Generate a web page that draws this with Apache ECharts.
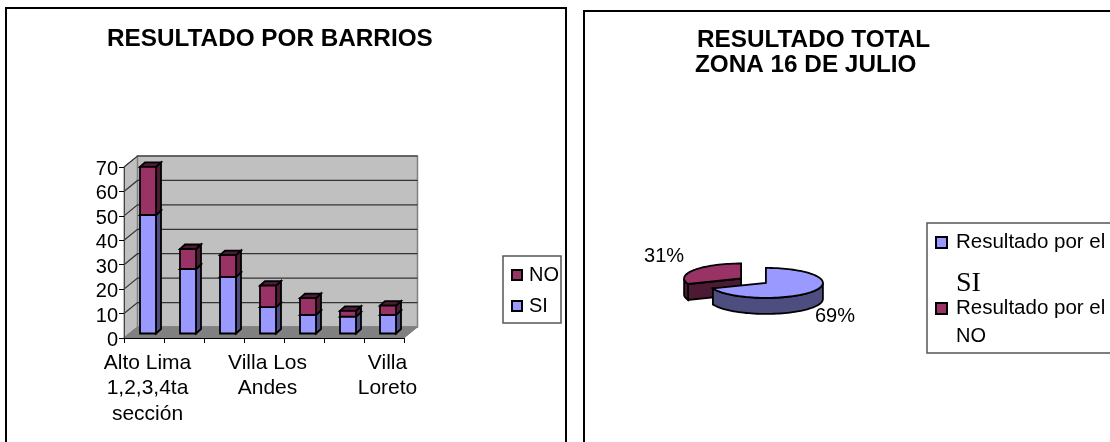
<!DOCTYPE html>
<html>
<head>
<meta charset="utf-8">
<style>
  html, body { margin: 0; padding: 0; background: #ffffff; }
  #chart { width: 1110px; height: 442px; }
</style>
</head>
<body>
<div id="chart"></div>
<script src="https://cdn.jsdelivr.net/npm/echarts@6/dist/echarts.min.js"></script>
<script>
// bar chart data
const barrios = ['Alto Lima\n1,2,3,4ta\nsección', '', '', 'Villa Los\nAndes', '', '', 'Villa\nLoreto']
const si = [48.5, 26.4, 23.2, 10.8, 7.6, 6.9, 7.6]
const no = [19.7, 8.2, 8.9, 8.8, 6.9, 2.4, 3.8]
const yTicks = [0, 10, 20, 30, 40, 50, 60, 70]

// pie chart data
const pieNames = ['Resultado por el SI', 'Resultado por el NO']
const pieValues = [69, 31]

const BLUE = '#9999FF'
const BLUE_SIDE = '#4D4D80'
const RED = '#993366'
const RED_SIDE = '#4D1A33'
const FONT = '"Liberation Sans", Arial, sans-serif'

// depth of the 3d box and of the bars, px
const WALL_DX = 13.5
const WALL_DY = -11
const BAR_DX = 4
const BAR_DY = -4.5
const BAR_W = 16
const BAR_DEPTH_X = 5
const BAR_DEPTH_Y = -4.5

function poly (points, fill, stroke, lineWidth) {
  return {
    type: 'polygon',
    shape: { points: points },
    style: { fill: fill, stroke: stroke || null, lineWidth: lineWidth || 0 }
  }
}

// side wall, floor, back wall and gridlines
function renderWalls (params, api) {
  const c = params.coordSys
  const left = c.x
  const right = c.x + c.width
  const top = c.y
  const base = c.y + c.height
  const children = [
    poly([[left, base], [left + WALL_DX, base + WALL_DY], [left + WALL_DX, top + WALL_DY], [left, top]], '#C0C0C0', '#808080', 1),
    poly([[left + WALL_DX, base + WALL_DY], [right + WALL_DX, base + WALL_DY], [right + WALL_DX, top + WALL_DY], [left + WALL_DX, top + WALL_DY]], '#C0C0C0', '#808080', 1.5),
    poly([[left, base], [right, base], [right + WALL_DX, base + WALL_DY], [left + WALL_DX, base + WALL_DY]], '#808080', '#808080', 1)
  ]
  yTicks.forEach(function (t) {
    const y = api.coord([0, t])[1]
    children.push({
      type: 'polyline',
      shape: { points: [[left, y], [left + WALL_DX, y + WALL_DY], [right + WALL_DX, y + WALL_DY]] },
      style: { fill: null, stroke: t === 0 ? '#808080' : '#333333', lineWidth: 1.2 }
    })
  })
  return { type: 'group', children: children }
}

function barRenderer (front, side) {
  return function (params, api) {
    const cx = api.coord([api.value(0), 0])[0] + BAR_DX
    const y0 = api.coord([0, api.value(1)])[1] + BAR_DY
    const y1 = api.coord([0, api.value(2)])[1] + BAR_DY
    const x0 = cx - BAR_W / 2
    const x1 = cx + BAR_W / 2
    return {
      type: 'group',
      children: [
        poly([[x1, y0], [x1 + BAR_DEPTH_X, y0 + BAR_DEPTH_Y], [x1 + BAR_DEPTH_X, y1 + BAR_DEPTH_Y], [x1, y1]], side, '#000', 1.8),
        poly([[x0, y1], [x1, y1], [x1 + BAR_DEPTH_X, y1 + BAR_DEPTH_Y], [x0 + BAR_DEPTH_X, y1 + BAR_DEPTH_Y]], side, '#000', 1.8),
        poly([[x0, y0], [x1, y0], [x1, y1], [x0, y1]], front, '#000', 1.8)
      ]
    }
  }
}

// pie centre, radii, thickness, explosion
const PIE = { cx: 753.5, cy: 280.7, rx: 57, ry: 15, h: 16, explode: 15 }

function sliceRenderer (index, top, side, labelDx, labelDy) {
  return function (params, api) {
    const total = pieValues.reduce(function (a, b) { return a + b }, 0)
    let before = 0
    for (let i = 0; i < index; i++) { before += pieValues[i] }
    const start = before / total * Math.PI * 2
    const end = (before + api.value(0)) / total * Math.PI * 2
    const mid = (start + end) / 2
    const cx = PIE.cx + Math.sin(mid) * PIE.explode
    const cy = PIE.cy - Math.cos(mid) * PIE.explode * PIE.ry / PIE.rx
    const at = function (a) {
      return [cx + Math.sin(a) * PIE.rx, cy - Math.cos(a) * PIE.ry]
    }
    const arc = function (from, to) {
      const pts = []
      const n = Math.max(2, Math.ceil((to - from) / 0.05))
      for (let i = 0; i <= n; i++) { pts.push(at(from + (to - from) * i / n)) }
      return pts
    }
    const down = function (p) { return [p[0], p[1] + PIE.h] }
    const children = []
    // cut face, only the one that looks at the viewer
    if (start > Math.PI) {
      const e = at(start)
      children.push(poly([[cx, cy], e, down(e), [cx, cy + PIE.h]], side, '#000', 1.8))
    }
    const wallFrom = Math.max(start, Math.PI / 2)
    const wallTo = Math.min(end, Math.PI * 1.5)
    if (wallTo > wallFrom) {
      const w = arc(wallFrom, wallTo)
      children.push(poly(w.concat(w.map(down).reverse()), side, '#000', 1.8))
    }
    children.push(poly([[cx, cy]].concat(arc(start, end)), top, '#000', 1.8))
    children.push({
      type: 'text',
      style: {
        x: cx + labelDx,
        y: cy + labelDy,
        text: Math.round(api.value(0) / total * 100) + '%',
        fill: '#000',
        font: '20px ' + FONT,
        align: 'center',
        verticalAlign: 'middle'
      }
    })
    return { type: 'group', children: children }
  }
}

const chart = echarts.init(document.getElementById('chart'), null, { renderer: 'canvas' })

chart.setOption({
  animation: false,
  backgroundColor: '#ffffff',
  textStyle: { fontFamily: FONT, color: '#000' },
  title: [
    { text: 'RESULTADO POR BARRIOS', left: 107, top: 27, padding: 0, textStyle: { fontSize: 24.3, fontWeight: 'bold', color: '#000', fontFamily: FONT } },
    { text: 'RESULTADO TOTAL', left: 697, top: 28, padding: 0, textStyle: { fontSize: 24.3, fontWeight: 'bold', color: '#000', fontFamily: FONT } },
    { text: 'ZONA 16 DE JULIO', left: 695, top: 53, padding: 0, textStyle: { fontSize: 24.3, fontWeight: 'bold', color: '#000', fontFamily: FONT } }
  ],
  grid: { left: 124, top: 167, right: 706, bottom: 104 },
  xAxis: {
    type: 'category',
    data: barrios,
    z: 5,
    axisLine: { lineStyle: { color: '#000', width: 1.2 } },
    axisTick: { show: true, interval: 0, length: 5, lineStyle: { color: '#000', width: 1 } },
    axisLabel: { interval: 0, color: '#000', fontSize: 21, lineHeight: 25.5, margin: 12, padding: [0, 0, 0, 7], fontFamily: FONT },
    splitLine: { show: false }
  },
  yAxis: {
    type: 'value',
    min: 0,
    max: 70,
    interval: 10,
    z: 5,
    axisLine: { show: true, lineStyle: { color: '#444', width: 1 } },
    axisTick: { show: true, length: 5, lineStyle: { color: '#000', width: 1 } },
    axisLabel: {
      margin: 6,
      formatter: '{t|{value}}',
      rich: { t: { color: '#000', fontSize: 20, fontFamily: FONT, padding: [5, 0, 0, 0] } }
    },
    splitLine: { show: false }
  },
  legend: [
    {
      data: ['NO', 'SI'],
      orient: 'vertical',
      left: 503,
      top: 256,
      padding: [9, 2, 7, 8],
      itemWidth: 10,
      itemHeight: 10,
      itemGap: 11,
      borderColor: '#555',
      borderWidth: 1.5,
      icon: 'rect',
      textStyle: { fontSize: 20, color: '#000', fontFamily: FONT, padding: [0, 0, 0, 2] }
    },
    {
      data: pieNames,
      orient: 'vertical',
      left: 935,
      top: 232,
      padding: 0,
      itemWidth: 11,
      itemHeight: 11,
      itemGap: 45,
      icon: 'rect',
      formatter: function () { return 'Resultado por el' },
      textStyle: { fontSize: 20.5, color: '#000', fontFamily: FONT, padding: [0, 0, 0, 4] }
    }
  ],
  graphic: [
    { type: 'polyline', z: -1, shape: { points: [[6, 442], [6, 8], [566, 8], [566, 442]] }, style: { fill: null, stroke: '#000', lineWidth: 2 } },
    { type: 'polyline', z: -1, shape: { points: [[584, 442], [584, 11], [1110, 11]] }, style: { fill: null, stroke: '#000', lineWidth: 2 } },
    // pie legend box, runs off the right edge as in the picture
    { type: 'polyline', z: -1, shape: { points: [[1110, 223], [927, 223], [927, 353], [1110, 353]] }, style: { fill: null, stroke: '#555', lineWidth: 1.5 } },
    { type: 'text', left: 956, top: 270, style: { text: 'SI', fill: '#000', font: '28px "Liberation Serif", "Times New Roman", serif' } },
    { type: 'text', left: 956, top: 326, style: { text: 'NO', fill: '#000', font: '20px ' + FONT } }
  ],
  series: [
    {
      type: 'custom',
      name: 'paredes',
      z: 1,
      clip: false,
      silent: true,
      renderItem: renderWalls,
      encode: { x: 0, y: 1 },
      data: [[0, 0]]
    },
    {
      type: 'custom',
      name: 'SI',
      z: 2,
      clip: false,
      itemStyle: { color: BLUE, borderColor: '#000', borderWidth: 1.5 },
      renderItem: barRenderer(BLUE, BLUE_SIDE),
      encode: { x: 0, y: [1, 2] },
      data: si.map(function (v, i) { return [i, 0, v] })
    },
    {
      type: 'custom',
      name: 'NO',
      z: 3,
      clip: false,
      itemStyle: { color: RED, borderColor: '#000', borderWidth: 1.5 },
      renderItem: barRenderer(RED, RED_SIDE),
      encode: { x: 0, y: [1, 2] },
      data: no.map(function (v, i) { return [i, si[i], si[i] + v] })
    },
    {
      type: 'custom',
      name: pieNames[1],
      coordinateSystem: 'none',
      z: 2,
      itemStyle: { color: RED, borderColor: '#000', borderWidth: 1.5 },
      renderItem: sliceRenderer(1, RED, RED_SIDE, -77, -22),
      data: [[pieValues[1]]]
    },
    {
      type: 'custom',
      name: pieNames[0],
      coordinateSystem: 'none',
      z: 3,
      itemStyle: { color: BLUE, borderColor: '#000', borderWidth: 1.5 },
      renderItem: sliceRenderer(0, BLUE, BLUE_SIDE, 69, 34),
      data: [[pieValues[0]]]
    }
  ]
})
</script>
</body>
</html>
